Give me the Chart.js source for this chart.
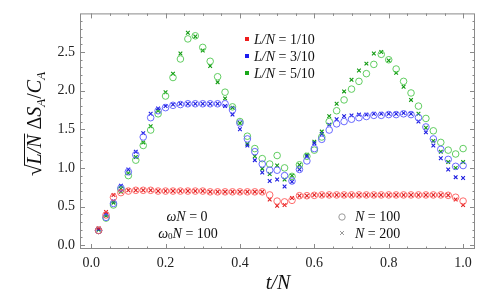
<!DOCTYPE html>
<html>
<head>
<meta charset="utf-8">
<script src="https://cdn.jsdelivr.net/npm/chart.js@4.4.0/dist/chart.umd.min.js"></script>
<style>
  html, body { margin: 0; padding: 0; background: #fff; }
  #wrap { width: 493px; height: 299px; }
</style>
</head>
<body>
<div id="wrap"><canvas id="chart"></canvas></div>
<script>
// t/N sample points
const tN = [0.02,0.04,0.06,0.08,0.10,0.12,0.14,0.16,0.18,0.20,
            0.22,0.24,0.26,0.28,0.30,0.32,0.34,0.36,0.38,0.40,
            0.42,0.44,0.46,0.48,0.50,0.52,0.54,0.56,0.58,0.60,
            0.62,0.64,0.66,0.68,0.70,0.72,0.74,0.76,0.78,0.80,
            0.82,0.84,0.86,0.88,0.90,0.92,0.94,0.96,0.98,1.00];

// L/N = 1/10
const red100 = [0.19,0.39,0.62,0.68,0.70,0.71,0.71,0.71,0.70,0.70, 0.70,0.70,0.70,0.70,0.70,0.69,0.69,0.69,0.69,0.69,
                0.69,0.69,0.69,0.65,0.57,0.56,0.58,0.64,0.64,0.645, 0.65,0.65,0.65,0.65,0.65,0.65,0.65,0.65,0.65,0.65,
                0.65,0.65,0.65,0.65,0.65,0.65,0.65,0.645,0.62,0.57];
const red200 = [0.22,0.43,0.65,0.69,0.71,0.71,0.71,0.71,0.70,0.70, 0.70,0.70,0.70,0.70,0.70,0.69,0.69,0.69,0.69,0.69,
                0.69,0.69,0.69,0.59,0.51,0.52,0.61,0.64,0.64,0.65, 0.65,0.65,0.65,0.65,0.65,0.65,0.65,0.65,0.65,0.65,
                0.65,0.65,0.65,0.65,0.65,0.65,0.65,0.645,0.59,0.52];
// L/N = 3/10
const blue100 = [0.19,0.36,0.54,0.74,0.95,1.17,1.40,1.65,1.74,1.78, 1.81,1.82,1.83,1.83,1.83,1.83,1.83,1.83,1.75,1.58,
                 1.375,1.21,1.05,0.97,0.97,0.90,0.83,0.98,1.09,1.25, 1.37,1.49,1.57,1.60,1.63,1.65,1.665,1.68,1.68,1.69,
                 1.69,1.70,1.69,1.65,1.53,1.375,1.24,1.11,1.02,1.03];
const blue200 = [0.21,0.40,0.57,0.77,0.98,1.21,1.45,1.70,1.77,1.80, 1.82,1.83,1.83,1.83,1.83,1.83,1.83,1.80,1.69,1.50,
                 1.29,1.10,0.94,0.83,0.85,0.76,0.82,0.98,1.15,1.32, 1.44,1.56,1.63,1.67,1.68,1.69,1.69,1.70,1.70,1.70,
                 1.70,1.71,1.70,1.60,1.46,1.29,1.125,0.98,0.88,0.87];
// L/N = 5/10
const green100 = [0.19,0.35,0.52,0.72,0.90,1.10,1.29,1.49,1.70,1.93, 2.17,2.41,2.67,2.71,2.56,2.38,2.18,1.98,1.79,1.60,
                  1.41,1.25,1.12,1.05,1.16,1.00,0.89,1.04,1.15,1.23, 1.40,1.60,1.74,1.88,2.02,2.12,2.22,2.34,2.47,2.40,
                  2.28,2.12,1.97,1.80,1.64,1.48,1.33,1.23,1.18,1.25];
const green200 = [0.20,0.38,0.55,0.73,0.93,1.14,1.33,1.54,1.74,1.98, 2.22,2.48,2.75,2.70,2.52,2.32,2.11,1.90,1.78,1.58,
                  1.31,1.15,0.99,0.92,1.03,0.85,0.90,1.04,1.17,1.34, 1.47,1.67,1.83,1.99,2.14,2.26,2.35,2.48,2.50,2.39,
                  2.23,2.05,1.88,1.70,1.52,1.35,1.21,1.075,1.00,1.075];

const xTicks = [0, 0.2, 0.4, 0.6, 0.8, 1.0];
const yTicks = [0, 0.5, 1.0, 1.5, 2.0, 2.5];
const seriesNames = ['1/10', '3/10', '5/10'];

const SERIF = '"Liberation Serif", "DejaVu Serif", serif';
const fnt = (px, it) => (it ? 'italic ' : '') + px + 'px ' + SERIF;
const pts = arr => tN.map((t, i) => ({ x: t, y: arr[i] }));

const COL = {
  red:   { c: 'rgba(255,90,90,0.9)',  x: '#e02020', sq: '#ee1c1c' },
  blue:  { c: 'rgba(90,90,255,0.9)',  x: '#1c1ce0', sq: '#1c1cee' },
  green: { c: 'rgba(80,200,80,0.9)',  x: '#109a10', sq: '#1aa81a' },
};

const circleSet = (arr, col) => ({ data: pts(arr), pointStyle: 'circle', pointRadius: 3.3, borderWidth: 1,
  borderColor: col, backgroundColor: 'rgba(0,0,0,0)', showLine: false });
const crossSet = (arr, col) => ({ data: pts(arr), pointStyle: 'crossRot', pointRadius: 2.6, borderWidth: 1.1,
  borderColor: col, backgroundColor: col, showLine: false });

// draw a run of text pieces: {t, px, it, dy}
function rich(ctx, parts, x, y, align) {
  let w = 0;
  parts.forEach(p => { ctx.font = fnt(p.px, p.it); p.w = ctx.measureText(p.t).width; w += p.w; });
  let cx = align === 'center' ? x - w / 2 : x;
  parts.forEach(p => { ctx.font = fnt(p.px, p.it); p.x0 = cx; ctx.fillText(p.t, cx, y + (p.dy || 0)); cx += p.w; });
  return parts;
}

const framePlugin = {
  id: 'frame',
  afterDraw(chart) {
    const { ctx, chartArea: a, scales: { x, y } } = chart;
    ctx.save();
    ctx.strokeStyle = '#8a8a8a';
    ctx.lineWidth = 1;
    ctx.strokeRect(a.left + 0.5, a.top + 0.5, a.right - a.left - 1, a.bottom - a.top - 1);

    ctx.beginPath();
    for (let k = 0; k <= 20; k++) {
      const v = k * 0.05, px = Math.round(x.getPixelForValue(v)) + 0.5;
      const len = k % 4 === 0 ? 5 : 2.5;
      ctx.moveTo(px, a.bottom); ctx.lineTo(px, a.bottom - len);
      ctx.moveTo(px, a.top); ctx.lineTo(px, a.top + len);
    }
    for (let k = 0; k < 30; k++) {
      const v = k * 0.1, py = Math.round(y.getPixelForValue(v)) + 0.5;
      const len = k % 5 === 0 ? 5 : 2.5;
      ctx.moveTo(a.left, py); ctx.lineTo(a.left + len, py);
      ctx.moveTo(a.right, py); ctx.lineTo(a.right - len, py);
    }
    ctx.stroke();

    ctx.fillStyle = '#111';
    ctx.textBaseline = 'middle';

    // series legend
    const sq = [COL.red.sq, COL.blue.sq, COL.green.sq];
    seriesNames.forEach((n, i) => {
      const yy = 39 + i * 17;
      ctx.fillStyle = sq[i];
      ctx.fillRect(245, yy - 2, 4, 4);
      ctx.fillStyle = '#111';
      rich(ctx, [{ t: 'L/N', px: 14, it: true }, { t: ' = ' + n, px: 14 }], 254, yy + 1, 'left');
    });

    // parameters
    rich(ctx, [{ t: 'ωN', px: 14, it: true }, { t: ' = 0', px: 14 }], 187, 217, 'center');
    rich(ctx, [{ t: 'ω', px: 14, it: true }, { t: '0', px: 9, dy: 3 }, { t: 'N', px: 14, it: true }, { t: ' = 100', px: 14 }], 188, 234, 'center');

    // N legend
    ctx.strokeStyle = '#9a9a9a';
    ctx.lineWidth = 1;
    ctx.beginPath(); ctx.arc(342, 217, 3.2, 0, Math.PI * 2); ctx.stroke();
    ctx.beginPath();
    ctx.moveTo(340, 231); ctx.lineTo(344, 235); ctx.moveTo(344, 231); ctx.lineTo(340, 235);
    ctx.stroke();
    rich(ctx, [{ t: 'N', px: 14, it: true }, { t: ' = 100', px: 14 }], 355, 217, 'left');
    rich(ctx, [{ t: 'N', px: 14, it: true }, { t: ' = 200', px: 14 }], 355, 234, 'left');

    // x title
    rich(ctx, [{ t: 't/N', px: 20, it: true }], 278, 284, 'center');

    // y title, rotated
    ctx.translate(34, 124);
    ctx.rotate(-Math.PI / 2);
    ctx.textBaseline = 'alphabetic';
    const parts = rich(ctx, [
      { t: '√', px: 21 }, { t: 'L/N', px: 20, it: true }, { t: ' Δ', px: 20 }, { t: 'S', px: 20, it: true },
      { t: 'A', px: 13, it: true, dy: 4 }, { t: '/', px: 20 }, { t: 'C', px: 20, it: true }, { t: 'A', px: 13, it: true, dy: 4 },
    ], 0, 7, 'center');
    ctx.strokeStyle = '#111';
    ctx.lineWidth = 1;
    ctx.beginPath();
    ctx.moveTo(parts[0].x0 + parts[0].w - 1, -9.5);
    ctx.lineTo(parts[1].x0 + parts[1].w + 1, -9.5);
    ctx.stroke();
    ctx.restore();
  },
};

new Chart(document.getElementById('chart'), {
  type: 'scatter',
  data: {
    datasets: [
      circleSet(red100, COL.red.c), circleSet(blue100, COL.blue.c), circleSet(green100, COL.green.c),
      crossSet(red200, COL.red.x), crossSet(blue200, COL.blue.x), crossSet(green200, COL.green.x),
    ],
  },
  options: {
    responsive: true,
    maintainAspectRatio: false,
    animation: false,
    layout: { padding: { top: 5, right: 18, left: 0, bottom: 0 } },
    plugins: { legend: { display: false }, tooltip: { enabled: false } },
    scales: {
      x: {
        type: 'linear', min: -0.03, max: 1.032,
        afterBuildTicks: s => { s.ticks = xTicks.map(v => ({ value: v })); },
        afterFit: s => { s.height = 50; },
        grid: { display: false, drawTicks: false },
        border: { display: false },
        ticks: { padding: 6, maxRotation: 0, color: '#222', font: { family: SERIF, size: 14 }, callback: v => v.toFixed(1) },
      },
      y: {
        type: 'linear', min: -0.05, max: 3.0,
        afterBuildTicks: s => { s.ticks = yTicks.map(v => ({ value: v })); },
        afterFit: s => { s.width = 80; },
        grid: { display: false, drawTicks: false },
        border: { display: false },
        ticks: { padding: 5, color: '#222', font: { family: SERIF, size: 14 }, callback: v => v.toFixed(1) },
      },
    },
  },
  plugins: [framePlugin],
});
</script>
</body>
</html>
